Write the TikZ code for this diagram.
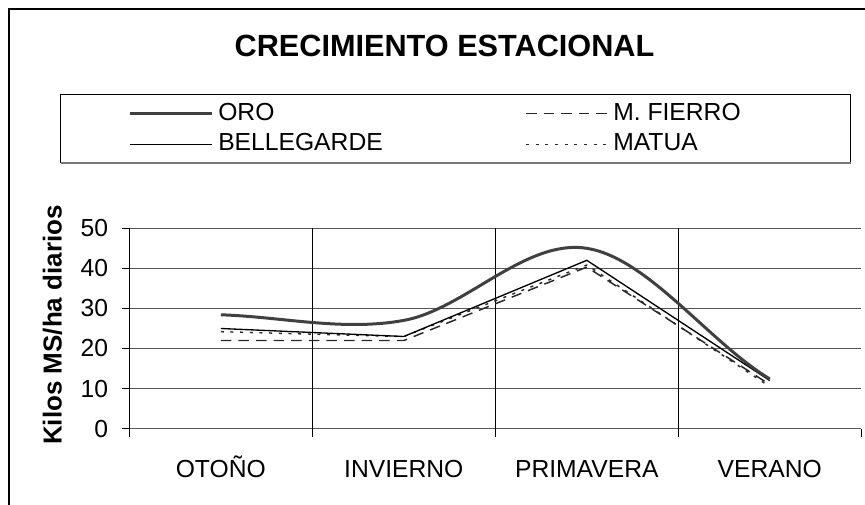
\documentclass[tikz,border=0pt]{standalone}
\usepackage{fontspec}
\setmainfont{Liberation Sans}
\begin{document}
\begin{tikzpicture}[x=0.75pt,y=0.75pt,yscale=-1,xscale=1,
    gridline/.style={draw={rgb, 255:red, 85; green, 85; blue, 85 }, line width=0.75pt},
    tickmark/.style={draw=black, line width=0.75pt},
    ticklbl/.style={anchor=east, inner sep=0pt, font=\fontsize{18.5}{20}\selectfont},
    catlbl/.style={anchor=base, inner sep=0pt, font=\fontsize{18.5}{20}\selectfont},
    legtxt/.style={anchor=base west, inner sep=0pt, font=\fontsize{18.5}{20}\selectfont},
    oroline/.style={draw={rgb, 255:red, 64; green, 64; blue, 64 }, line width=2.25pt, line join=round},
    belline/.style={draw=black, line width=1pt, line join=round},
    fierroline/.style={draw={rgb, 255:red, 40; green, 40; blue, 40 }, line width=1.1pt, dash pattern=on 7.9pt off 5.3pt},
    matualine/.style={draw={rgb, 255:red, 40; green, 40; blue, 40 }, line width=1.1pt, dash pattern=on 2.25pt off 5pt}]
        \clip (0,0) rectangle (865,504);

        %Shape: Frame
        \draw [line width=1pt]  (9,512) -- (9,9) -- (872,9) ;
        % Text Node
        \draw (444.5,46) node [inner sep=0pt, font=\fontsize{23}{25}\selectfont\bfseries] (title) {CRECIMIENTO ESTACIONAL};

        %Shape: Legend Rectangle
        \draw [line width=0.75pt]  (60,94) rectangle (850,162) ;
        \draw [draw={rgb, 255:red, 120; green, 120; blue, 120 }, line width=1.2pt]  (61,163.2) -- (851,163.2) ;
        %Straight Lines legend samples
        \draw [oroline]  (130,113.3) -- (212,113.3) ;
        \draw [belline]  (130,144.3) -- (212,144.3) ;
        \draw [fierroline]  (526,113.3) -- (607,113.3) ;
        \draw [matualine]  (526,144.3) -- (607,144.3) ;
        % Text Node
        \draw (218,120.5) node [legtxt] (legoro) {ORO};
        % Text Node
        \draw (218,150.5) node [legtxt] (legbel) {BELLEGARDE};
        % Text Node
        \draw (613,120.5) node [legtxt] (legfierro) {M. FIERRO};
        % Text Node
        \draw (613,150.5) node [legtxt] (legmatua) {MATUA};

        %Straight Lines horizontal grid
        \draw [gridline]  (129.3,228.2) -- (861.3,228.2) ;
        \draw [gridline]  (129.3,268.3) -- (861.3,268.3) ;
        \draw [gridline]  (129.3,308.4) -- (861.3,308.4) ;
        \draw [gridline]  (129.3,348.5) -- (861.3,348.5) ;
        \draw [gridline]  (129.3,388.6) -- (861.3,388.6) ;
        \draw [draw={rgb, 255:red, 90; green, 90; blue, 90 }, line width=1pt]  (129.3,428.7) -- (861.3,428.7) ;
        %Straight Lines vertical grid and axis
        \draw [tickmark]  (129.3,228.2) -- (129.3,436.5) ;
        \draw [tickmark]  (312.3,228.2) -- (312.3,436.5) ;
        \draw [tickmark]  (495.3,228.2) -- (495.3,436.5) ;
        \draw [tickmark]  (678.3,228.2) -- (678.3,436.5) ;
        \draw [tickmark]  (861.3,428.7) -- (861.3,436.5) ;
        %Straight Lines y ticks
        \draw [tickmark]  (121.7,228.2) -- (129.3,228.2) ;
        \draw [tickmark]  (121.7,268.3) -- (129.3,268.3) ;
        \draw [tickmark]  (121.7,308.4) -- (129.3,308.4) ;
        \draw [tickmark]  (121.7,348.5) -- (129.3,348.5) ;
        \draw [tickmark]  (121.7,388.6) -- (129.3,388.6) ;
        \draw [tickmark]  (121.7,428.7) -- (129.3,428.7) ;

        % Text Node
        \draw (108.3,228.2) node [ticklbl] (y50) {50};
        % Text Node
        \draw (108.3,268.3) node [ticklbl] (y40) {40};
        % Text Node
        \draw (108.3,308.4) node [ticklbl] (y30) {30};
        % Text Node
        \draw (108.3,348.5) node [ticklbl] (y20) {20};
        % Text Node
        \draw (108.3,388.6) node [ticklbl] (y10) {10};
        % Text Node
        \draw (108.3,428.7) node [ticklbl] (y0) {0};
        % Text Node
        \draw (61.5,325) node [anchor=base, rotate=90, inner sep=0pt, font=\fontsize{19.5}{21}\selectfont\bfseries] (ylabel) {Kilos MS/ha diarios};

        % Text Node
        \draw (220.8,477.5) node [catlbl] (otono) {OTOÑO};
        % Text Node
        \draw (403.8,477.5) node [catlbl] (invierno) {INVIERNO};
        % Text Node
        \draw (586.8,477.5) node [catlbl] (primavera) {PRIMAVERA};
        % Text Node
        \draw (769.8,477.5) node [catlbl] (verano) {VERANO};

        %Straight Lines MATUA
        \draw [matualine]  (220.8,331.7) -- (403.8,336.5) -- (586.8,265.1) -- (769.8,386.6) ;
        %Straight Lines M. FIERRO
        \draw [fierroline]  (220.8,340.5) -- (403.8,340.5) -- (586.8,267.1) -- (769.8,384.6) ;
        %Straight Lines BELLEGARDE
        \draw [belline]  (220.8,328.5) -- (403.8,336.5) -- (586.8,260.3) -- (769.8,380.6) ;
        %Curve Lines ORO
        \draw [oroline]  (220.8,314.8) .. controls (281.8,316.7) and (342.8,331.5) .. (403.8,320.4) .. controls (464.8,309.3) and (525.8,238.5) .. (586.8,248.3) .. controls (647.8,258) and (708.8,342) .. (769.8,379) ;
    \end{tikzpicture}
\end{document}
